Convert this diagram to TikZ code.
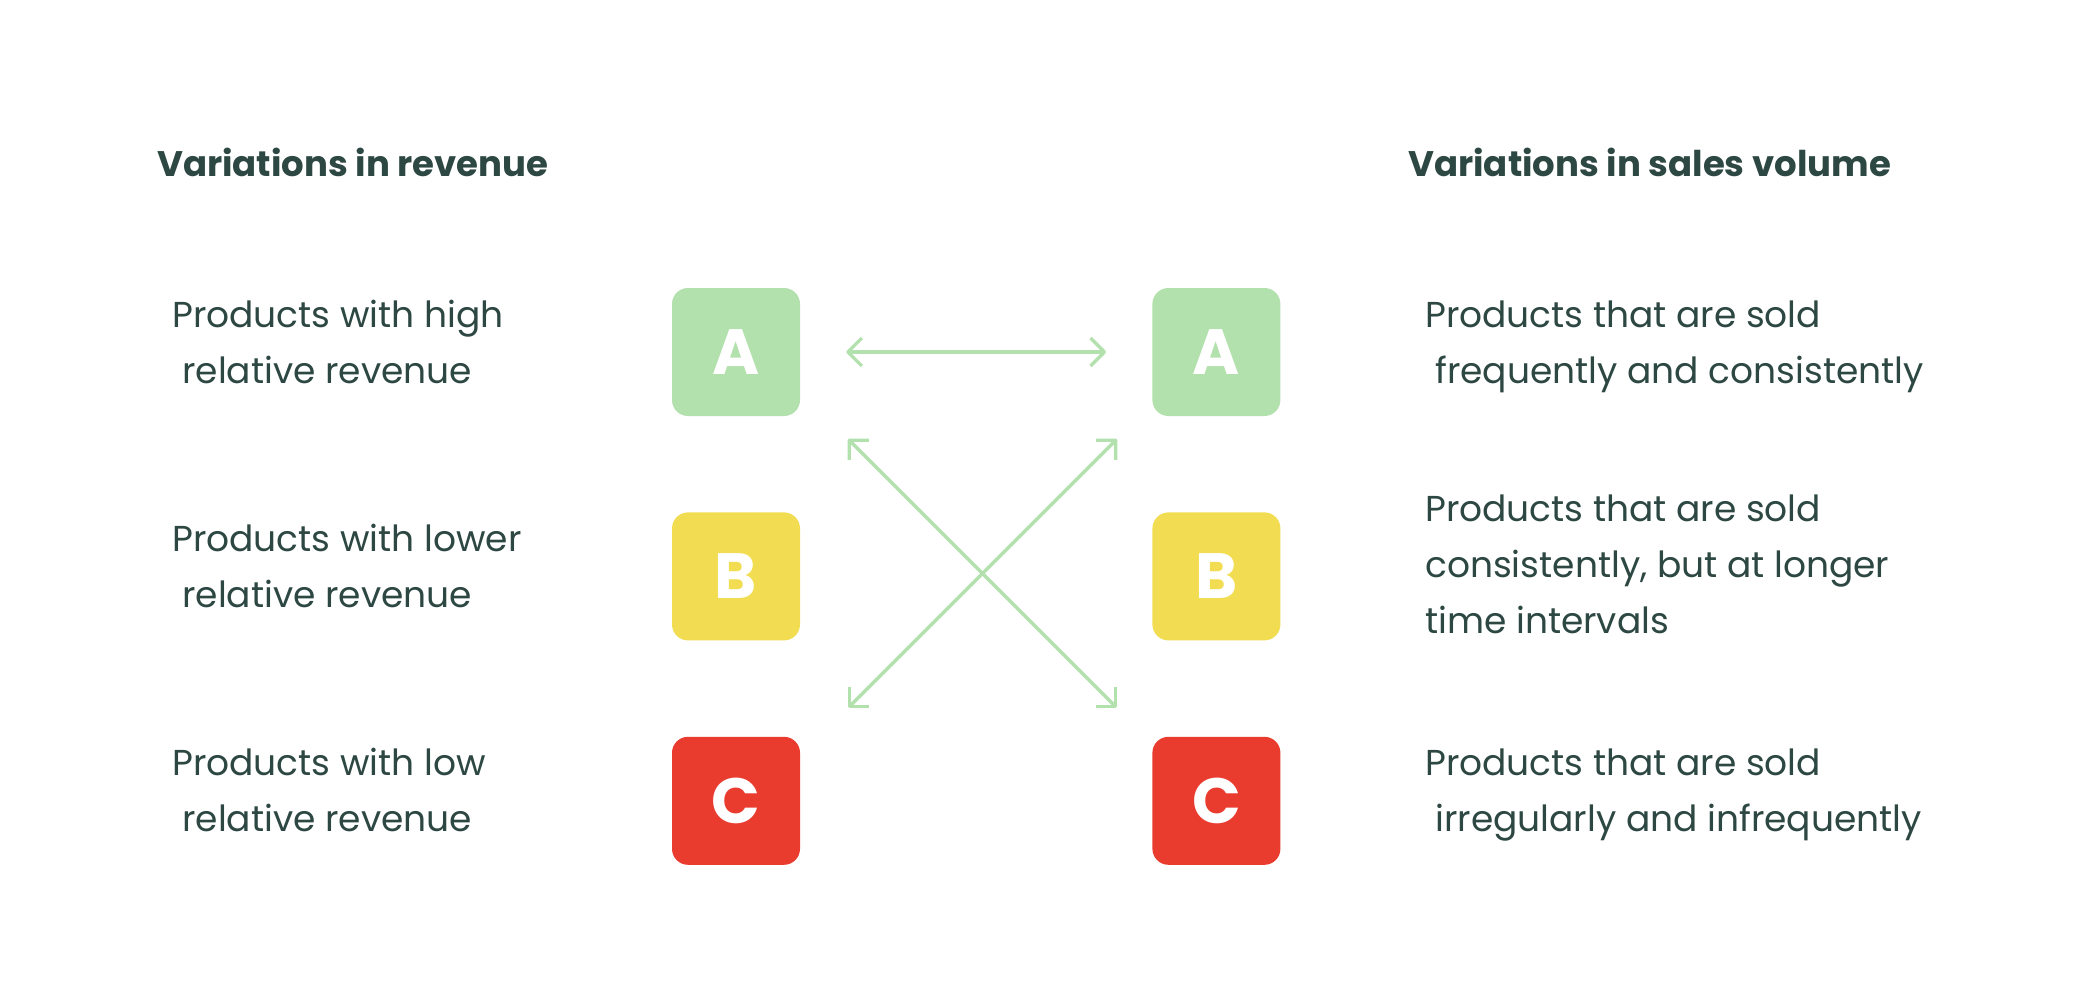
\documentclass[tikz,border=0pt]{standalone}
\usepackage{fontspec}
\setmainfont{Poppins}
\usetikzlibrary{arrows.meta,positioning}

\definecolor{ink}{HTML}{2D4742}
\definecolor{gradeA}{HTML}{B2E1AD}
\definecolor{gradeB}{HTML}{F2DD52}
\definecolor{gradeC}{HTML}{EA3B2F}

\begin{document}
\begin{tikzpicture}[x=1pt,y=-1pt,
    grade/.style={rounded corners=16pt,minimum width=128pt,minimum height=128pt,inner sep=0pt,
      text=white,font=\fontsize{64}{64}\selectfont\bfseries},
    desc/.style={anchor=base west,align=left,inner sep=0pt,text=ink,font=\fontsize{36}{56}\selectfont},
    head/.style={anchor=base west,inner sep=0pt,text=ink,font=\fontsize{35.5}{44}\selectfont\bfseries},
    link/.style={draw=gradeA,line width=3.3pt,line cap=round,
      {Straight Barb[length=14pt,width=28pt,line join=round]}-{Straight Barb[length=14pt,width=28pt,line join=round]}}]

  \fill[white] (0,0) rectangle (2076,1000);
  \useasboundingbox (0,0) rectangle (2076,1000);

  % grades, revenue side and volume side
  \node[grade,fill=gradeA] (ra) at (736,352) {A};
  \node[grade,fill=gradeB] (rb) [below=96pt of ra] {B};
  \node[grade,fill=gradeC] (rc) [below=96pt of rb] {C};

  \node[grade,fill=gradeA] (va) [right=352pt of ra] {A};
  \node[grade,fill=gradeB] (vb) [right=352pt of rb] {B};
  \node[grade,fill=gradeC] (vc) [right=352pt of rc] {C};

  % headings
  \node[head] (hrev) at (157,177) {Variations in revenue};
  \node[head] (hvol) at (1408,177) {Variations in sales volume};

  % descriptions (placed at the baseline of their last line)
  \node[desc] (ta) at (172,383) {Products with high\\\hspace*{.28em}relative revenue};
  \node[desc] (tb) at (172,607) {Products with lower\\\hspace*{.28em}relative revenue};
  \node[desc] (tc) at (172,831) {Products with low\\\hspace*{.28em}relative revenue};

  \node[desc] (sa) at (1425,383) {Products that are sold\\\hspace*{.28em}frequently and consistently};
  \node[desc] (sb) at (1425,633) {Products that are sold\\consistently, but at longer\\time intervals};
  \node[desc] (sc) at (1425,831) {Products that are sold\\\hspace*{.28em}irregularly and infrequently};

  % links
  \coordinate (nw) at (848,439);
  \coordinate (se) at (1117,708);
  \coordinate (sw) at (848,708);
  \coordinate (ne) at (1117,439);

  \draw[link,shorten <=46pt,shorten >=46pt] (ra) -- (va);
  \draw[link] (nw) -- (se);
  \draw[link] (sw) -- (ne);
\end{tikzpicture}
\end{document}
